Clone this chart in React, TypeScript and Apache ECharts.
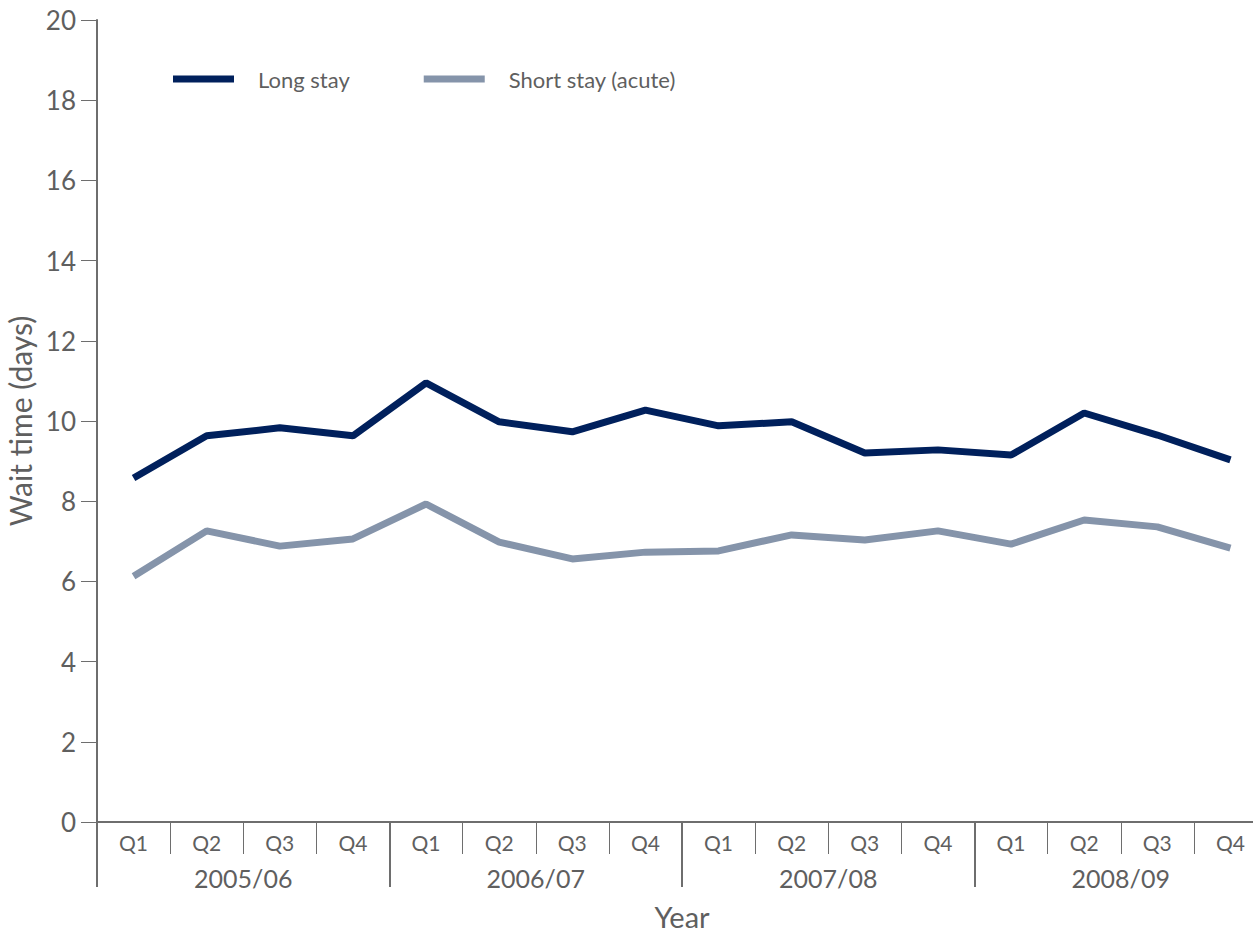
import React, { useEffect, useRef } from "react";
import * as echarts from "echarts";

const quarters = [
  "Q1", "Q2", "Q3", "Q4",
  "Q1", "Q2", "Q3", "Q4",
  "Q1", "Q2", "Q3", "Q4",
  "Q1", "Q2", "Q3", "Q4",
];
const years = ["2005/06", "2006/07", "2007/08", "2008/09"];
const longStay = [8.58, 9.63, 9.83, 9.63, 10.95, 9.98, 9.73, 10.27, 9.88, 9.98, 9.2, 9.28, 9.15, 10.2, 9.65, 9.03];
const shortStay = [6.13, 7.26, 6.88, 7.06, 7.93, 6.98, 6.56, 6.73, 6.76, 7.16, 7.03, 7.26, 6.93, 7.53, 7.36, 6.83];

const FONT = "Lato, 'Noto Sans', sans-serif";
const TEXT = "#5f5f5f";
const AXIS = "#6e6e6e";

export default function App() {
  const ref = useRef<HTMLDivElement>(null);
  useEffect(() => {
    if (!ref.current) return;
    const chart = echarts.init(ref.current, undefined, { renderer: "svg" });
    chart.setOption({
      animation: false,
      textStyle: { fontFamily: FONT },
      legend: {
        left: 173,
        top: 68,
        padding: 0,
        icon: "rect",
        itemWidth: 61,
        itemHeight: 7,
        itemGap: 74,
        textStyle: { fontFamily: FONT, fontSize: 22, color: TEXT, padding: [0, 0, 0, 19] },
        data: ["Long stay", "Short stay (acute)"],
      },
      grid: {
        left: 97,
        top: 20,
        width: 1170,
        height: 802,
        containLabel: false,
        outerBoundsMode: "none",
      },
      xAxis: [
        {
          type: "category",
          data: quarters,
          boundaryGap: true,
          name: "Year",
          nameLocation: "middle",
          nameGap: 80,
          nameTextStyle: { fontFamily: FONT, fontSize: 29, color: TEXT },
          axisLine: { lineStyle: { color: AXIS, width: 2 } },
          axisTick: { show: true, interval: 0, length: 32, lineStyle: { color: AXIS, width: 1 } },
          axisLabel: { interval: 0, margin: 10, fontFamily: FONT, fontSize: 21, color: TEXT },
        },
        {
          type: "category",
          data: years,
          position: "bottom",
          boundaryGap: true,
          axisLine: { show: false },
          axisTick: { show: true, interval: 0, length: 65, lineStyle: { color: AXIS, width: 2 } },
          axisLabel: { interval: 0, margin: 43, fontFamily: FONT, fontSize: 25, color: TEXT },
        },
      ],
      yAxis: {
        type: "value",
        min: 0,
        max: 20,
        interval: 2,
        name: "Wait time (days)",
        nameLocation: "middle",
        nameGap: 58,
        nameRotate: 90,
        nameTextStyle: { fontFamily: FONT, fontSize: 30, color: TEXT },
        splitLine: { show: false },
        axisLine: { show: true, lineStyle: { color: AXIS, width: 2 } },
        axisTick: { show: true, length: 16, lineStyle: { color: AXIS, width: 1 } },
        axisLabel: { margin: 21, fontFamily: FONT, fontSize: 26, color: TEXT },
      },
      series: [
        {
          name: "Long stay",
          type: "line",
          data: longStay,
          showSymbol: false,
          symbol: "none",
          itemStyle: { color: "#00205c" },
          lineStyle: { color: "#00205c", width: 7 },
        },
        {
          name: "Short stay (acute)",
          type: "line",
          data: shortStay,
          showSymbol: false,
          symbol: "none",
          itemStyle: { color: "#8594aa" },
          lineStyle: { color: "#8594aa", width: 7 },
        },
      ],
    });
    return () => chart.dispose();
  }, []);
  return <div ref={ref} style={{ width: 1253, height: 933, position: "absolute", left: 0, top: 0 }} />;
}
